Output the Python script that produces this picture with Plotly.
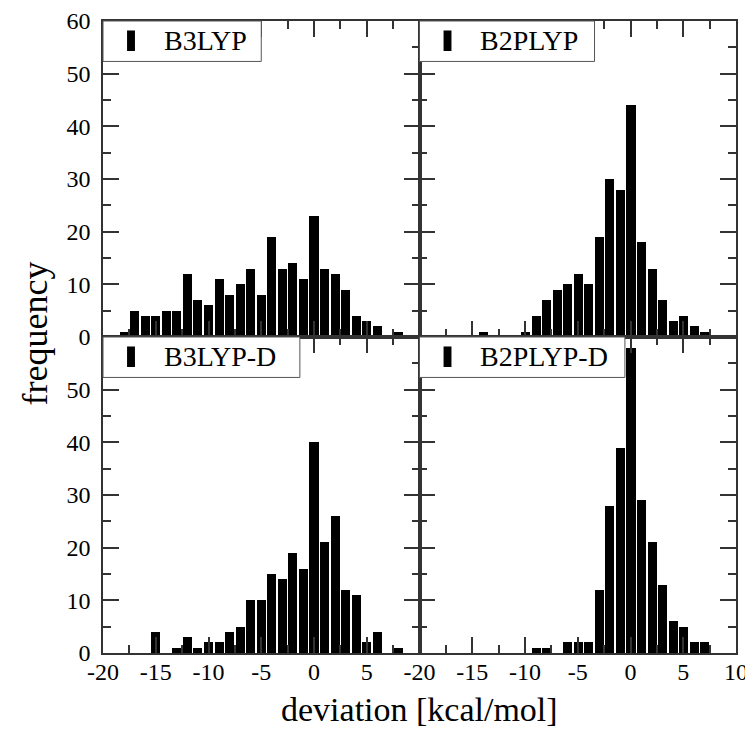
import plotly.graph_objects as go
from plotly.subplots import make_subplots

# bin centres in kcal/mol
bins = list(range(-20, 10))

b3lyp = [0, 0, 1, 5, 4, 4, 5, 5, 12, 7, 6, 11, 8, 10, 13, 8, 19, 13, 14, 11,
         23, 13, 12, 9, 4, 3, 2, 0, 1, 0]
b2plyp = [0, 0, 0, 0, 0, 0, 1, 0, 0, 0, 1, 4, 7, 9, 10, 12, 10, 19, 30, 28,
          44, 18, 13, 7, 3, 4, 2, 1, 0, 0]
b3lyp_d = [0, 0, 0, 0, 0, 4, 0, 1, 3, 1, 2, 2, 4, 5, 10, 10, 15, 14, 19, 16,
           40, 21, 26, 12, 11, 2, 4, 0, 1, 0]
b2plyp_d = [0, 0, 0, 0, 0, 0, 0, 0, 0, 0, 0, 1, 1, 0, 2, 2, 2, 12, 28, 39,
            58, 29, 21, 13, 6, 5, 2, 2, 0, 0]

x_ticks = [-20, -15, -10, -5, 0, 5, 10]
x_labels = ["-20", "-15", "-10", "-5", "0", "5", "10"]
y_ticks = [0, 10, 20, 30, 40, 50, 60]

panels = [
    ("B3LYP", b3lyp, 1, 1),
    ("B2PLYP", b2plyp, 1, 2),
    ("B3LYP-D", b3lyp_d, 2, 1),
    ("B2PLYP-D", b2plyp_d, 2, 2),
]

font = "Liberation Serif"
axcol = "#333333"

fig = make_subplots(rows=2, cols=2, horizontal_spacing=0, vertical_spacing=0)

for name, counts, r, c in panels:
    fig.add_trace(
        go.Bar(x=bins, y=counts, width=0.86, name=name,
               marker=dict(color="black", line=dict(width=0)),
               showlegend=False),
        row=r, col=c,
    )

# legend boxes, one per panel
box_right = {"B3LYP": 0.50, "B2PLYP": 0.553, "B3LYP-D": 0.622, "B2PLYP-D": 0.649}
for i, (name, counts, r, c) in enumerate(panels):
    ax = "" if i == 0 else str(i + 1)
    xr, yr = "x" + ax + " domain", "y" + ax + " domain"
    fig.add_shape(type="rect", xref=xr, yref=yr, x0=0, x1=box_right[name],
                  y0=0.872, y1=1, line=dict(color="#555555", width=1),
                  fillcolor="white", layer="above")
    fig.add_shape(type="rect", xref=xr, yref=yr, x0=0.076, x1=0.101,
                  y0=0.905, y1=0.97, line=dict(width=0), fillcolor="black",
                  layer="above")
    fig.add_annotation(text=name, xref=xr, yref=yr, x=0.185, y=0.937,
                       xanchor="left", yanchor="middle", showarrow=False,
                       font=dict(family=font, size=28, color="black"))

common = dict(
    showline=True, linecolor=axcol, linewidth=1.5, mirror="ticks",
    ticks="inside", ticklen=16, tickwidth=1.5, tickcolor=axcol,
    showgrid=False, zeroline=False, automargin=False,
    tickfont=dict(family=font, size=24, color="black"),
)

for r in (1, 2):
    for c in (1, 2):
        n = 6 if c == 1 else 7
        fig.update_xaxes(
            range=[-20, 10], tickmode="array", tickvals=x_ticks[:n],
            ticktext=x_labels[:n], ticklabelstandoff=-4,
            minor=dict(tickmode="array",
                       tickvals=[-17.5, -12.5, -7.5, -2.5, 2.5, 7.5],
                       ticks="inside", ticklen=8, tickwidth=1.5,
                       tickcolor=axcol),
            showticklabels=(r == 2), row=r, col=c, **common)
        m = 7 if r == 1 else 6
        fig.update_yaxes(
            range=[0, 60], tickmode="array", tickvals=y_ticks[:m],
            ticklabelstandoff=6,
            minor=dict(tickmode="array", tickvals=[5, 15, 25, 35, 45, 55],
                       ticks="inside", ticklen=8, tickwidth=1.5,
                       tickcolor=axcol),
            showticklabels=(c == 1), row=r, col=c, **common)

fig.add_annotation(text="frequency", xref="paper", yref="paper",
                   x=-0.107, y=0.506, textangle=-90, showarrow=False,
                   xanchor="center", yanchor="middle",
                   font=dict(family=font, size=36, color="black"))
fig.add_annotation(text="deviation [kcal/mol]", xref="paper", yref="paper",
                   x=0.5, y=-0.09, showarrow=False,
                   xanchor="center", yanchor="middle",
                   font=dict(family=font, size=34, color="black"))

# the page puts the figure ~8px in from the top-left corner
fig.update_layout(
    width=745, height=721,
    margin=dict(l=95, r=17, t=13, b=76),
    plot_bgcolor="white", paper_bgcolor="white",
    bargap=0,
)

fig.write_html("out.html")
